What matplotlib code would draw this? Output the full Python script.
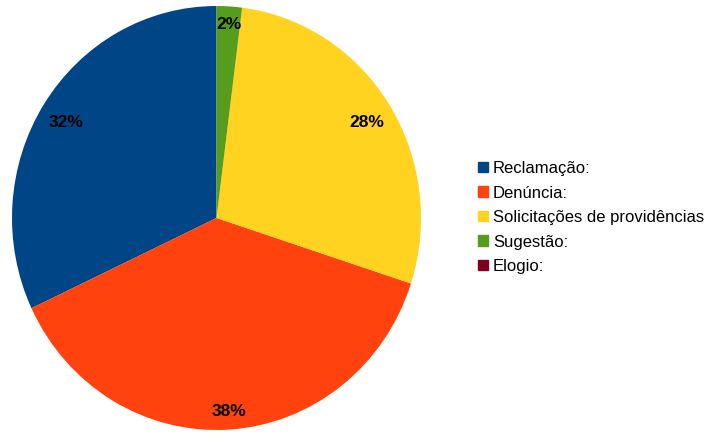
import numpy as np
import matplotlib.pyplot as plt
import matplotlib.patches as mpatches

plt.rcParams['font.family'] = ['Liberation Sans', 'DejaVu Sans']

categories = ['Reclamação:', 'Denúncia:', 'Solicitações de providências', 'Sugestão:', 'Elogio:']
values = [32, 38, 28, 2, 0]
colors = ['#004586', '#ff420e', '#ffd320', '#579d1c', '#7e0021']

W, H = 709, 438
fig = plt.figure(figsize=(W / 100, H / 100), dpi=100)
# pie area in pixels: left 12, right 421, top 6, bottom 430
ax = fig.add_axes([12 / W, 1 - 430 / H, 409 / W, 424 / H])


def pct(p):
    return '%.0f%%' % p if p >= 0.5 else ''


wedges, texts, autotexts = ax.pie(values, colors=colors, startangle=90, counterclock=True,
                                  autopct=pct, pctdistance=0.9, radius=1,
                                  textprops=dict(fontsize=12.5, fontweight='bold', color='black'),
                                  wedgeprops=dict(linewidth=0))
ax.set_aspect('auto')
ax.set_xlim(-1, 1)
ax.set_ylim(-1, 1)
ax.axis('off')

# put each label just inside the rim, like the office chart does
rx, ry = 409 / 2, 424 / 2
gap = 9.5
fig.canvas.draw()
renderer = fig.canvas.get_renderer()
for w, t in zip(wedges, autotexts):
    if not t.get_text():
        continue
    th = np.deg2rad((w.theta1 + w.theta2) / 2)
    ux, uy = np.cos(th), np.sin(th)
    bb = t.get_window_extent(renderer)
    ext = bb.width / 2 * abs(ux) + bb.height / 2 * abs(uy)
    rim = 1 / np.sqrt((ux / rx) ** 2 + (uy / ry) ** 2)
    d = rim - ext - gap
    t.set_position((d * ux / rx, d * uy / ry))

handles = [mpatches.Patch(color=c, label=l) for c, l in zip(colors, categories)]
fig.legend(handles=handles, loc='upper left', bbox_to_anchor=(478 / W, 1 - 161 / H),
           frameon=False, fontsize=12, handlelength=0.6, handleheight=0.6,
           handletextpad=0.3, labelspacing=0.57, borderaxespad=0, borderpad=0)

fig.savefig('out.png', dpi=100)
